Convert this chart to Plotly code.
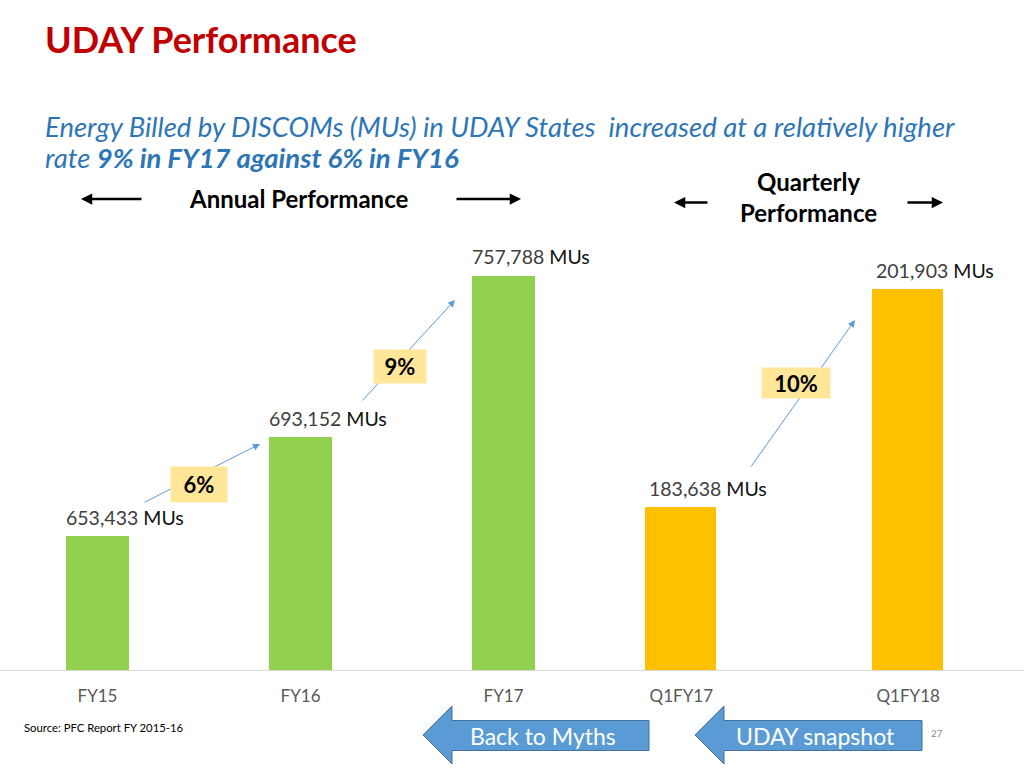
import plotly.graph_objects as go

# ---------------- data ----------------
annual_categories = ["FY15", "FY16", "FY17"]
annual_values = [653433, 693152, 757788]
quarter_categories = ["Q1FY17", "Q1FY18"]
quarter_values = [183638, 201903]
growth_labels = ["6%", "9%", "10%"]
unit_label = "MUs"

W, H = 1024, 768
FONT = "Lato"


def px(x):
    return x / W


def py(y):
    return 1 - y / H


fig = go.Figure()

fig.add_trace(go.Bar(
    x=annual_categories, y=annual_values, xaxis="x", yaxis="y",
    marker=dict(color="#92D050", line=dict(width=0)), width=0.313,
    hoverinfo="skip", showlegend=False,
))
fig.add_trace(go.Bar(
    x=quarter_categories, y=quarter_values, xaxis="x2", yaxis="y2",
    marker=dict(color="#FFC000", line=dict(width=0)), width=0.312,
    hoverinfo="skip", showlegend=False,
))

ydom = [py(670), py(240)]
axis_common = dict(showgrid=False, zeroline=False, showline=True, linecolor="#D9D9D9",
                   linewidth=1, ticks="", tickfont=dict(family=FONT, size=17, color="#595959"),
                   ticklabelstandoff=11, fixedrange=True)

fig.update_layout(
    width=W, height=H,
    margin=dict(l=0, r=0, t=0, b=0),
    paper_bgcolor="white", plot_bgcolor="white",
    bargap=0,
    xaxis=dict(domain=[0, 0.6], anchor="y", type="category",
               categoryorder="array", categoryarray=annual_categories,
               range=[-0.4803, 2.546], **axis_common),
    xaxis2=dict(domain=[0.6, 1], anchor="y2", type="category",
                categoryorder="array", categoryarray=quarter_categories,
                range=[-0.2948, 1.5104], **axis_common),
    yaxis=dict(domain=ydom, anchor="x", range=[600000, 772000], visible=False, fixedrange=True),
    yaxis2=dict(domain=ydom, anchor="x2", range=[170000, 206044], visible=False, fixedrange=True),
)

ann = []

# value labels above bars
def value_label(xref, yref, cat, v):
    return dict(
        xref=xref, yref=yref, x=cat, y=v, xanchor="left", yanchor="middle",
        xshift=-34, yshift=19, showarrow=False,
        text=f"<span style='color:#404040'>{v:,}</span> {unit_label}",
        font=dict(family=FONT, size=19.5, color="#111111"),
    )

for c, v in zip(annual_categories, annual_values):
    ann.append(value_label("x", "y", c, v))
for c, v in zip(quarter_categories, quarter_values):
    ann.append(value_label("x2", "y2", c, v))

# thin blue growth arrows
blue_arrows = [((260, 444), (143, 503)), ((455, 300), (361, 402)), ((855, 320), (750, 468))]
for (hx, hy), (tx, ty) in blue_arrows:
    ann.append(dict(xref="paper", yref="paper", x=px(hx), y=py(hy), ax=tx - hx, ay=ty - hy,
                    text="", showarrow=True, arrowhead=2, arrowsize=1.4, arrowwidth=1,
                    arrowcolor="#5B9BD5", standoff=0, startstandoff=0))

# growth boxes
boxes = [(199, 484, 56, 35), (400, 366.5, 52, 33), (796, 383, 68, 30)]
for lab, (cx, cy, bw, bh) in zip(growth_labels, boxes):
    ann.append(dict(xref="paper", yref="paper", x=px(cx), y=py(cy), xanchor="center",
                    yanchor="middle", showarrow=False, text=f"<b>{lab}</b>",
                    font=dict(family=FONT, size=22, color="black"), bgcolor="#FFE699",
                    width=bw, height=bh, borderpad=0, align="center", valign="middle"))

# black section arrows
black_arrows = [((81, 199), (143, 199)), ((521, 199), (455, 199)),
                ((674, 202.5), (709, 202.5)), ((943, 202.5), (906, 202.5))]
for (hx, hy), (tx, ty) in black_arrows:
    ann.append(dict(xref="paper", yref="paper", x=px(hx), y=py(hy), ax=tx - hx, ay=ty - hy,
                    text="", showarrow=True, arrowhead=2, arrowsize=0.9, arrowwidth=2.5,
                    arrowcolor="black", standoff=0, startstandoff=0))

# texts
def txt(x, y, s, size, color="black", xanchor="center", **kw):
    ann.append(dict(xref="paper", yref="paper", x=px(x), y=py(y), xanchor=xanchor,
                    yanchor="middle", showarrow=False, text=s,
                    font=dict(family=FONT, size=size, color=color), **kw))

txt(43, 39, "<b>UDAY Performance</b>", 36, "#C00000", "left")
txt(43, 126, "<i>Energy Billed by DISCOMs (MUs) in UDAY States  increased at a relatively higher</i>",
    27.5, "#2E75B6", "left")
txt(43, 158, "<i>rate <b>9% in FY17 against 6% in FY16</b></i>", 27.5, "#2E75B6", "left")
txt(298, 199, "<b>Annual Performance</b>", 24)
txt(808, 182, "<b>Quarterly</b>", 24)
txt(808, 212, "<b>Performance</b>", 24)
txt(22, 727, "Source: PFC Report FY 2015-16", 11.3, "black", "left")
txt(937, 733, "27", 10, "#8C8C8C")

# navigation arrows
def arrow_path(tip, base, right, top, bot, htop, hbot, mid):
    pts = [(tip, mid), (base, htop), (base, top), (right, top), (right, bot), (base, bot), (base, hbot)]
    return "M " + " L ".join(f"{px(x):.5f},{py(y):.5f}" for x, y in pts) + " Z"

shapes = [
    dict(type="path", xref="paper", yref="paper",
         path=arrow_path(423, 452, 649, 720.5, 750.5, 706, 764, 735),
         fillcolor="#5B9BD5", line=dict(color="#41719C", width=1)),
    dict(type="path", xref="paper", yref="paper",
         path=arrow_path(695, 724, 922, 720.5, 750.5, 706, 764, 735),
         fillcolor="#5B9BD5", line=dict(color="#41719C", width=1)),
]
fig.update_layout(shapes=shapes)

txt(543, 736, "Back to Myths", 23, "white")
txt(815, 736, "UDAY snapshot", 23, "white")

fig.update_layout(annotations=ann)

fig.write_html("out.html", config={"displayModeBar": False},
               post_script="document.body.style.margin='0';document.body.style.overflow='hidden';")
